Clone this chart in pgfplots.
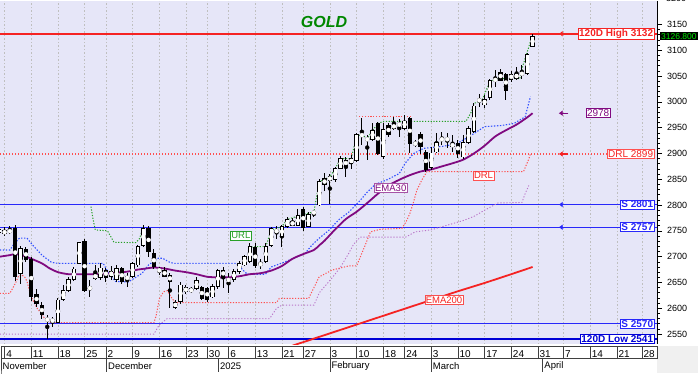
\documentclass[border=0pt]{standalone}
\usepackage{pgfplots}
\pgfplotsset{compat=1.18}
\usepackage{pgfplotstable}
\usepackage{fontspec}
\setmainfont{Liberation Sans}
\usetikzlibrary{arrows.meta}
\definecolor{lav}{RGB}{230,230,248}
\definecolor{emapurple}{RGB}{128,10,128}
\definecolor{lred}{RGB}{245,35,35}
\definecolor{sblue}{RGB}{40,40,250}
\definecolor{dblue}{RGB}{50,80,255}
\definecolor{dred}{RGB}{255,80,80}
\definecolor{dgreen}{RGB}{40,160,40}
\definecolor{dpurple}{RGB}{185,115,200}
\definecolor{ggreen}{RGB}{0,135,0}
\definecolor{lowblue}{RGB}{0,0,215}

\pgfplotstableread{
i O H L C
-1 2747 2757 2740 2752
0 2745 2757 2740 2750
1 2746 2760 2744 2753
2 2755 2762 2652 2661
3 2667 2720 2648 2716
4 2714 2719 2690 2695
5 2695 2700 2614 2622
6 2627 2637 2602 2609
7 2606 2613 2580 2587
8 2580 2587 2541 2576
9 2575 2584 2564 2577
10 2572 2619 2571 2616
11 2617 2645 2615 2634
12 2635 2660 2632 2655
13 2655 2680 2653 2676
14 2687 2729 2686 2727
15 2729 2735 2632 2634
16 2640 2655 2622 2638
17 2658 2684 2655 2666
18 2659 2688 2654 2678
19 2674 2678 2650 2660
20 2662 2681 2655 2672
21 2656 2683 2650 2677
22 2677 2680 2648 2651
23 2656 2668 2641 2662
24 2661 2690 2658 2687
25 2684 2722 2680 2719
26 2722 2761 2719 2755
27 2755 2759 2700 2710
28 2706 2715 2677 2680
29 2672 2680 2665 2675
30 2674 2680 2660 2662
31 2664 2668 2601 2652
32 2602 2616 2599 2611
33 2613 2650 2609 2645
34 2640 2645 2628 2632
35 2632 2642 2630 2638
36 2638 2660 2635 2654
37 2640 2644 2616 2619
38 2638 2641 2613 2616
39 2622 2648 2619 2643
40 2642 2677 2638 2673
41 2674 2680 2640 2661
42 2656 2668 2629 2654
43 2655 2677 2651 2672
44 2671 2692 2667 2687
45 2684 2703 2681 2700
46 2690 2726 2688 2719
47 2718 2726 2679 2682
48 2687 2696 2677 2684
49 2690 2726 2688 2720
50 2722 2758 2719 2755
51 2751 2759 2735 2748
52 2739 2761 2718 2758
53 2758 2776 2755 2772
54 2761 2774 2759 2768
55 2761 2792 2759 2779
56 2792 2797 2750 2757
57 2758 2787 2757 2781
58 2784 2790 2776 2787
59 2800 2850 2798 2845
60 2852 2863 2828 2839
61 2848 2861 2803 2855
62 2850 2874 2845 2871
63 2871 2895 2869 2890
64 2886 2893 2855 2877
65 2881 2897 2869 2890
66 2887 2939 2884 2936
67 2937 2968 2916 2934
68 2929 2935 2888 2926
69 2927 2960 2925 2945
70 2958 2961 2897 2900
71 2894 2960 2890 2947
72 2955 2960 2932 2936
73 2949 2971 2945 2956
74 2955 2966 2932 2957
75 2949 2975 2945 2963
76 2968 2971 2900 2920
77 2920 2926 2912 2918
78 2937 2942 2899 2913
79 2903 2907 2865 2868
80 2873 2913 2868 2901
81 2903 2940 2900 2921
82 2929 2942 2916 2926
83 2927 2940 2910 2928
84 2918 2935 2903 2914
85 2920 2926 2892 2900
86 2893 2936 2890 2921
87 2921 2953 2918 2948
88 2942 2997 2939 2992
89 3005 3015 2990 3001
90 2994 3014 2989 3005
91 3008 3045 3004 3041
92 3041 3062 3029 3044
93 3058 3063 3041 3042
94 3054 3056 3003 3021
95 3054 3059 3039 3043
96 3046 3068 3042 3054
97 3052 3071 3045 3057
98 3055 3094 3052 3091
99 3108 3131 3107 3126.8
}\candles

\begin{document}
\begin{tikzpicture}
\useasboundingbox (0pt,-29pt) rectangle (698pt,344pt);
\begin{axis}[
  at={(0pt,0pt)}, anchor=south west,
  width=657pt, height=343pt, scale only axis,
  xmin=-0.86, xmax=122.33, ymin=2530.6, ymax=3195.3,
  clip mode=individual,
  axis background/.style={fill=lav},
  axis line style={draw=none},
  xtick={0,5,10,15,19,24,29,34,38,42,47,52,56,61,66,71,75,80,85,90,95,100,104.8,109.8,114.8,119.5},
  xticklabels={4,11,18,25,2,9,16,23,30,6,13,21,27,3,10,18,24,3,10,17,24,31,7,14,21,28},
  xtick style={draw=none},
  xticklabel style={anchor=west, font=\fontsize{10}{10}\selectfont, inner sep=0pt, yshift=-5pt, xshift=1.5pt},
  xmajorgrids,
  grid style={gray!50, dash pattern=on 1.3pt off 2.2pt, line width=0.6pt},
  ytick={2550,2600,...,3150},
  minor y tick num=4,
  ytick pos=right, yticklabel pos=right,
  tick align=outside,
  major tick length=5pt, minor tick length=3pt,
  ytick style={black, line width=0.6pt},
  minor tick style={black, line width=0.5pt},
  yticklabel style={font=\fontsize{9}{10}\selectfont, xshift=1.5pt},
  /pgf/number format/assume math mode=true,
  /pgf/number format/set thousands separator={},
]
% horizontal levels
\addplot[lowblue, line width=1.6pt] coordinates {(-0.86,2541) (122.33,2541)};
\addplot[sblue, line width=0.9pt] coordinates {(-0.86,2570) (122.33,2570)};
\addplot[sblue, line width=1pt] coordinates {(-0.86,2757) (122.33,2757)};
\addplot[sblue, line width=1pt] coordinates {(-0.86,2801) (122.33,2801)};
\addplot[dred, line width=1.1pt, dash pattern=on 1.4pt off 1.6pt] coordinates {(-0.86,2899) (122.33,2899)};
\addplot[lred, line width=1.6pt] coordinates {(-0.86,3132) (122.33,3132)};

% purple dotted
\addplot[dpurple, line width=0.9pt, dash pattern=on 1.2pt off 1.8pt] coordinates {
(-0.9,2550) (28,2550) (29,2568) (30.5,2580) (49.7,2580) (51,2600) (52,2606) (58,2606) (59,2630) (61.5,2660) (63,2680) (64.5,2706) (65.5,2725) (66.7,2738) (75.2,2738) (77,2748) (80,2752) (86,2770) (88,2778) (90,2790) (92.5,2804) (97,2805) (97.6,2822) (98.3,2838)};
% red dotted (trailing)
\addplot[dred, line width=1pt, dash pattern=on 1.2pt off 1.6pt] coordinates {
(-0.9,2629) (1,2629) (2.1,2650) (2.6,2662) (3.2,2665) (3.8,2660) (4.2,2652) (5,2622) (6.2,2598) (7,2590) (7.5,2580) (8.2,2574) (9,2572) (28,2572) (28.4,2585) (29,2618) (29.8,2632) (30.5,2634) (31.2,2622) (32,2611) (51,2611) (51.5,2619) (57,2619) (58,2640) (59,2661) (61.4,2674) (64.5,2682) (66,2682) (67.6,2722) (68.6,2748) (70.4,2753) (74.5,2755) (75.3,2768) (76,2784) (76.6,2803) (77.3,2829) (78.2,2848) (79.2,2865) (97.3,2865) (98.2,2887) (98.6,2899)};
\addplot[dred, line width=1pt, dash pattern=on 1.2pt off 1.6pt] coordinates {(66.5,2972) (76,2972)};
% blue dotted
\addplot[dblue, line width=1.1pt, dash pattern=on 1.4pt off 1.6pt] coordinates {
(-0.9,2713) (1,2713) (1.8,2725) (2.8,2736) (4.2,2736) (5.3,2722) (7,2703) (8.8,2689) (10,2687) (18.5,2687) (19.5,2668) (20.8,2652) (23.2,2651) (24.3,2658) (25.8,2668) (27,2684) (28.8,2697) (29.6,2697) (30.8,2690) (31.7,2687) (43.5,2687) (44.5,2676) (45.5,2666) (48.9,2666) (50,2680) (52.6,2690) (56.3,2706) (57.6,2722) (58.9,2735) (60.8,2751) (62.6,2771) (64.5,2786) (66.4,2806) (68,2825) (69.5,2840) (71.7,2849) (74,2861) (75.1,2881) (76.7,2900) (78.6,2910) (82.3,2914) (84.8,2919) (87,2932) (90,2952) (93,2954) (95.5,2958) (97.6,2971) (98.6,3010)};
% green dotted
\addplot[dgreen, line width=1pt, dash pattern=on 1.2pt off 1.6pt] coordinates {
(16.2,2797) (16.6,2772) (17,2752) (19.3,2750) (20.5,2728) (24.6,2727) (25.3,2735) (26,2757)};
\addplot[dgreen, line width=1pt, dash pattern=on 1.2pt off 1.6pt] coordinates {
(45.8,2716) (46.5,2719) (49,2720) (50,2752) (52,2758) (53,2772) (55,2779) (58,2787) (59,2845) (60,2850) (61,2855) (62,2871) (63,2890) (65,2890) (66,2934) (67,2936) (68,2929) (69,2945) (70,2958) (71,2962) (86.5,2962) (87.5,2980) (88,2997) (89.5,3003) (91,3039) (92.2,3045) (96.6,3045) (97.2,3071) (98.1,3100) (98.8,3124)};
% EMA200
\addplot[lred, line width=1.8pt] coordinates {
(52,2521) (55,2531) (60,2548) (65,2565) (70,2582) (75,2599) (80,2616) (85,2633) (90,2649) (95,2666) (99,2680)};
% EMA30
\addplot[emapurple, line width=1.8pt, smooth] coordinates {
(-0.9,2700) (1,2703) (2,2705) (3.5,2702) (5,2696) (7,2687) (8.5,2677) (10,2670) (12,2666) (14,2666) (16,2666) (19,2667) (21,2669) (23,2671) (25,2675) (26.5,2677) (28,2679) (30,2677) (32,2673) (34,2670) (36,2666) (38,2661) (40,2660) (42,2660) (44,2662) (46,2666) (48,2668) (50,2673) (52,2682) (54,2696) (56,2705) (58,2713) (59,2722) (60,2731) (62,2753) (64,2773) (66,2787) (68,2804) (70,2822) (72,2838) (74,2849) (76,2858) (78,2865) (80,2869) (82,2875) (84,2881) (86,2888) (88,2900) (90,2915) (92,2933) (94,2945) (96,2956) (98,2970) (99,2978)};

% candles: wicks, body outline, white body fill
\addplot[black, only marks, mark=none, error bars/.cd, y dir=both, y explicit, error mark=none,
  error bar style={black, line width=0.9pt}]
  table[x=i, y expr={(\thisrow{H}+\thisrow{L})/2}, y error expr={(\thisrow{H}-\thisrow{L})/2}] {\candles};
\addplot[black, only marks, mark=none, error bars/.cd, y dir=both, y explicit, error mark=none,
  error bar style={black, line width=4.3pt}]
  table[x=i, y expr={(\thisrow{O}+\thisrow{C})/2}, y error expr={abs(\thisrow{C}-\thisrow{O})/2+0.8}] {\candles};
\addplot[white, only marks, mark=none, error bars/.cd, y dir=both, y explicit, error mark=none,
  error bar style={white, line width=2.7pt}]
  table[x=i, y expr={(\thisrow{O}+\thisrow{C})/2}, y error expr={(\thisrow{C}>\thisrow{O})*max(0,(\thisrow{C}-\thisrow{O})/2-0.8)}] {\candles};

% right axis line
\draw[black, line width=0.8pt] (rel axis cs:1,0) -- (rel axis cs:1,1);
\node[anchor=west, font=\fontsize{9}{10}\selectfont, inner sep=0pt] at ([xshift=9pt]axis cs:122.33,3200) {3200};

% bottom date rows
\fill[gray!12] ([yshift=-2pt]rel axis cs:1,0) rectangle ++(41pt,-27pt);
\draw[black!75, line width=0.6pt] ([xshift=1.5pt,yshift=-2pt]rel axis cs:0,0) rectangle ([yshift=-14pt]rel axis cs:1,0);
\pgfplotsinvokeforeach{0,5,10,15,19,24,29,34,38,42,47,52,56,61,66,71,75,80,85,90,95,100,104.8,109.8,114.8,119.5}{
  \draw[black!75, line width=0.6pt] ([yshift=-2pt]axis cs:#1,2530.6) -- ([yshift=-14pt]axis cs:#1,2530.6);}
\draw[black!75, line width=0.6pt] ([xshift=1.5pt,yshift=-14pt]rel axis cs:0,0) -- ++(0,-14pt);
\pgfplotsinvokeforeach{19.1,40.1,61,80,100.9}{
  \draw[black!75, line width=0.6pt] ([yshift=-14pt]axis cs:#1,2530.6) -- ([yshift=-28pt]axis cs:#1,2530.6);}
\begin{scope}[every node/.style={anchor=west, font=\fontsize{9.5}{9.5}\selectfont, inner sep=0pt}]
\node at ([xshift=2.5pt,yshift=-22pt]rel axis cs:0,0) {November};
\node at ([xshift=1.5pt,yshift=-22pt]axis cs:19.1,2530.6) {December};
\node at ([xshift=1.5pt,yshift=-22pt]axis cs:40.1,2530.6) {2025};
\node at ([xshift=1.5pt,yshift=-22pt]axis cs:61,2530.6) {February};
\node at ([xshift=1.5pt,yshift=-22pt]axis cs:80,2530.6) {March};
\node at ([xshift=1.5pt,yshift=-22pt]axis cs:100.9,2530.6) {April};
\end{scope}

% arrows at right
\draw[lred, line width=1.3pt, -{Latex[length=4pt,width=6pt]}] (axis cs:105.7,3132) -- (axis cs:103.9,3132);
\draw[emapurple, line width=1.3pt, -{Latex[length=4pt,width=6pt]}] (axis cs:105.7,2978) -- (axis cs:103.9,2978);
\draw[lred, line width=1.3pt, -{Latex[length=4pt,width=6pt]}] (axis cs:105.7,2899) -- (axis cs:103.9,2899);
\draw[sblue, line width=1.3pt, -{Latex[length=4pt,width=6pt]}] (axis cs:105.7,2801) -- (axis cs:103.9,2801);
\draw[sblue, line width=1.3pt, -{Latex[length=4pt,width=6pt]}] (axis cs:105.7,2757) -- (axis cs:103.9,2757);
% red down arrow
\fill[lred] (axis cs:111.9,2902) ++(-1.8pt,0) -- ++(0,-6.5pt) -- ++(-3.3pt,0) -- ++(5.1pt,-7.5pt) -- ++(5.1pt,7.5pt) -- ++(-3.3pt,0) -- ++(0,6.5pt) -- cycle;
% green up arrow
\filldraw[fill={rgb,255:red,0;green,150;blue,0}, draw={rgb,255:red,0;green,90;blue,0}, line width=0.5pt] (axis cs:66.75,3135.3) ++(-3pt,0) -- ++(0,9.5pt) -- ++(-4.5pt,0) -- ++(7.5pt,9.5pt) -- ++(7.5pt,-9.5pt) -- ++(-4.5pt,0) -- ++(0,-9.5pt) -- cycle;
\node[font=\bfseries\itshape\fontsize{16}{16}\selectfont, text=ggreen, inner sep=0pt] at (axis cs:59.9,3154) {GOLD};

% labels right
\begin{scope}[every node/.style={fill=white, inner sep=1pt, line width=0.8pt, font=\fontsize{10}{10}\selectfont}]
\node[draw=lred, text=lred, anchor=east, font=\bfseries\fontsize{10}{10}\selectfont] at ([xshift=-2.5pt]axis cs:122.33,3132) {120D High 3132};
\node[draw=emapurple, text=emapurple] at (axis cs:111.3,2978) {2978};
\node[draw=dred, text=lred, anchor=east] at ([xshift=-2.5pt]axis cs:122.33,2899) {DRL 2899};
\node[draw=sblue, text=sblue, anchor=east, font=\bfseries\fontsize{10}{10}\selectfont] at ([xshift=-2.5pt]axis cs:122.33,2801) {S 2801};
\node[draw=sblue, text=sblue, anchor=east, font=\bfseries\fontsize{10}{10}\selectfont] at ([xshift=-2.5pt]axis cs:122.33,2757) {S 2757};
\node[draw=sblue, text=sblue, anchor=east, font=\bfseries\fontsize{10}{10}\selectfont] at ([xshift=-2.5pt]axis cs:122.33,2570) {S 2570};
\node[draw=lowblue, text=lowblue, anchor=east, font=\bfseries\fontsize{10}{10}\selectfont] at ([xshift=-2.5pt]axis cs:122.33,2541) {120D Low 2541};
\node[draw=emapurple!70, text=emapurple, line width=0.6pt, font=\fontsize{9.5}{10}\selectfont] at (axis cs:72.4,2833) {EMA30};
\node[draw=lred!80, text=lred, line width=0.6pt, font=\fontsize{9.5}{10}\selectfont] at (axis cs:82.4,2616) {EMA200};
\node[draw=dred, text=lred, line width=0.6pt, font=\fontsize{9.5}{10}\selectfont] at (axis cs:89.8,2857) {DRL};
\node[draw=dgreen, text=dgreen, line width=0.6pt, font=\fontsize{9.5}{10}\selectfont] at (axis cs:44.3,2741) {URL};
\end{scope}
\node[fill=black, text={rgb,255:red,0;green,235;blue,0}, anchor=west, inner sep=1pt, font=\fontsize{8.5}{9}\selectfont] at ([xshift=3pt]axis cs:122.33,3126.8) {3126.800};
\end{axis}
\end{tikzpicture}
\end{document}
